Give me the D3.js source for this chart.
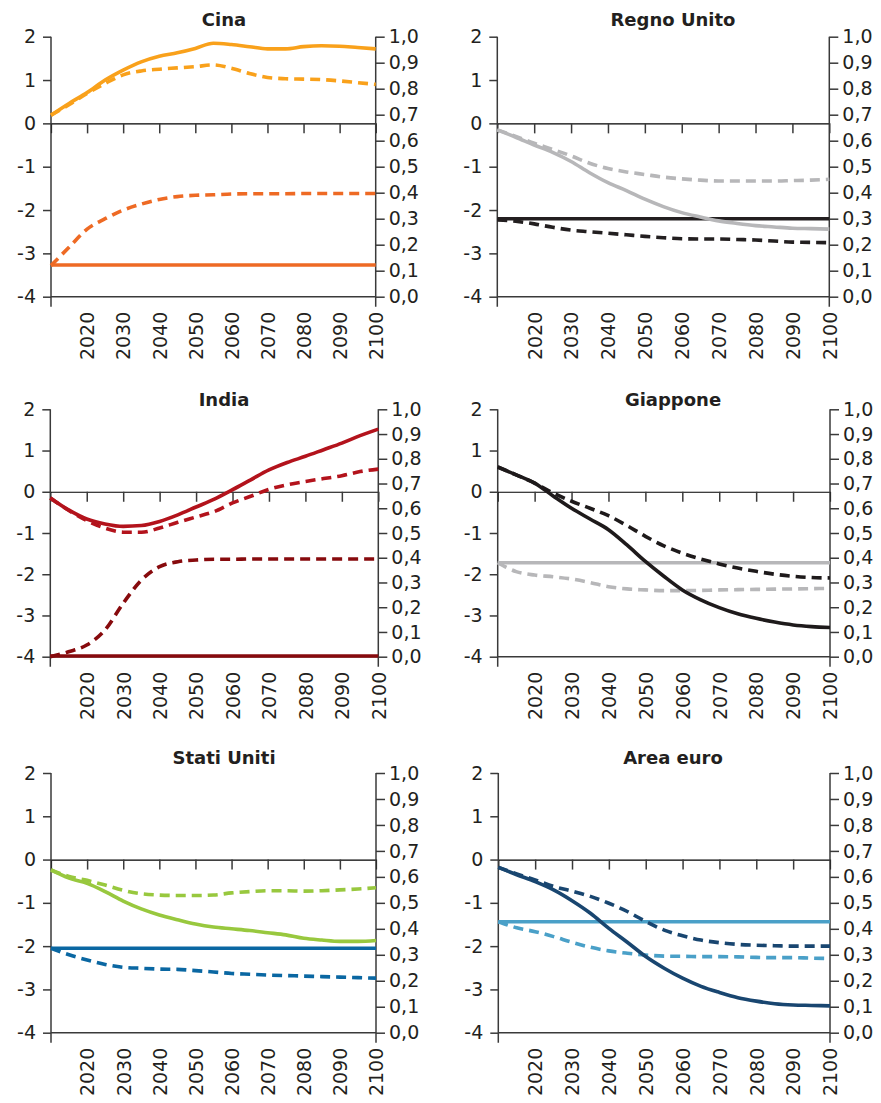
<!DOCTYPE html>
<html>
<head>
<meta charset="utf-8">
<script src="https://cdn.jsdelivr.net/npm/d3@7"></script>
<style>
  html, body { margin: 0; padding: 0; background: #fff; }
  svg { display: block; }
</style>
</head>
<body>
<svg id="chart" width="881" height="1103"></svg>
<script>
// ---------------- DATA ----------------
const years = [2010, 2015, 2020, 2025, 2030, 2035, 2040, 2045, 2050, 2055, 2060, 2065, 2070, 2075, 2080, 2085, 2090, 2095, 2100];
const xTickYears = [2020, 2030, 2040, 2050, 2060, 2070, 2080, 2090, 2100];
const leftTicks = [2, 1, 0, -1, -2, -3, -4];
const rightTicks = [1.0, 0.9, 0.8, 0.7, 0.6, 0.5, 0.4, 0.3, 0.2, 0.1, 0.0];
const countries = ["Cina", "Regno Unito", "India", "Giappone", "Stati Uniti", "Area euro"];

// upper series (left axis): solid and dashed; lower series (right axis): flat solid and dashed
const cinaSolidL  = [0.19, 0.46, 0.71, 1.00, 1.23, 1.42, 1.55, 1.63, 1.73, 1.85, 1.82, 1.77, 1.72, 1.72, 1.77, 1.79, 1.78, 1.75, 1.72];
const cinaDashL   = [0.19, 0.43, 0.69, 0.92, 1.12, 1.21, 1.25, 1.28, 1.31, 1.35, 1.27, 1.15, 1.06, 1.03, 1.02, 1.01, 0.98, 0.94, 0.90];
const cinaSolidR  = [0.122, 0.122, 0.122, 0.122, 0.122, 0.122, 0.122, 0.122, 0.122, 0.122, 0.122, 0.122, 0.122, 0.122, 0.122, 0.122, 0.122, 0.122, 0.122];
const cinaDashR   = [0.12, 0.19, 0.26, 0.30, 0.333, 0.356, 0.374, 0.385, 0.39, 0.392, 0.395, 0.396, 0.396, 0.396, 0.397, 0.397, 0.397, 0.397, 0.397];

const ukSolidL    = [-0.15, -0.32, -0.50, -0.67, -0.88, -1.14, -1.37, -1.55, -1.75, -1.92, -2.06, -2.16, -2.25, -2.31, -2.36, -2.39, -2.42, -2.43, -2.44];
const ukDashL     = [-0.15, -0.30, -0.46, -0.60, -0.75, -0.92, -1.04, -1.12, -1.18, -1.24, -1.28, -1.31, -1.33, -1.33, -1.33, -1.33, -1.32, -1.31, -1.29];
const ukSolidR    = [0.30, 0.30, 0.30, 0.30, 0.30, 0.30, 0.30, 0.30, 0.30, 0.30, 0.30, 0.30, 0.30, 0.30, 0.30, 0.30, 0.30, 0.30, 0.30];
const ukDashR     = [0.295, 0.29, 0.28, 0.267, 0.256, 0.25, 0.244, 0.238, 0.232, 0.227, 0.223, 0.222, 0.222, 0.22, 0.218, 0.214, 0.21, 0.209, 0.208];

const indiaSolidL = [-0.15, -0.44, -0.66, -0.78, -0.84, -0.82, -0.72, -0.56, -0.37, -0.18, 0.05, 0.29, 0.53, 0.71, 0.86, 1.02, 1.18, 1.36, 1.52];
const indiaDashL  = [-0.15, -0.45, -0.70, -0.88, -0.98, -0.98, -0.88, -0.74, -0.61, -0.48, -0.27, -0.11, 0.06, 0.17, 0.25, 0.32, 0.39, 0.49, 0.55];
const indiaSolidR = [0.003, 0.003, 0.003, 0.003, 0.003, 0.003, 0.003, 0.003, 0.003, 0.003, 0.003, 0.003, 0.003, 0.003, 0.003, 0.003, 0.003, 0.003, 0.003];
const indiaDashR  = [0.0, 0.02, 0.047, 0.108, 0.216, 0.31, 0.364, 0.384, 0.391, 0.394, 0.394, 0.395, 0.395, 0.395, 0.395, 0.395, 0.395, 0.395, 0.395];

const japanSolidL = [0.60, 0.41, 0.21, -0.10, -0.40, -0.66, -0.92, -1.29, -1.69, -2.05, -2.38, -2.62, -2.81, -2.96, -3.07, -3.16, -3.23, -3.27, -3.29];
const japanDashL  = [0.60, 0.41, 0.21, -0.03, -0.23, -0.40, -0.58, -0.82, -1.08, -1.31, -1.49, -1.63, -1.75, -1.85, -1.93, -2.00, -2.05, -2.08, -2.09];
const japanSolidR = [0.38, 0.38, 0.38, 0.38, 0.38, 0.38, 0.38, 0.38, 0.38, 0.38, 0.38, 0.38, 0.38, 0.38, 0.38, 0.38, 0.38, 0.38, 0.38];
const japanDashR  = [0.38, 0.344, 0.33, 0.323, 0.314, 0.30, 0.283, 0.274, 0.27, 0.267, 0.267, 0.268, 0.27, 0.271, 0.272, 0.273, 0.274, 0.275, 0.276];

const usSolidL    = [-0.24, -0.43, -0.55, -0.74, -0.96, -1.14, -1.28, -1.39, -1.49, -1.56, -1.60, -1.64, -1.69, -1.74, -1.82, -1.86, -1.89, -1.89, -1.87];
const usDashL     = [-0.24, -0.39, -0.48, -0.59, -0.71, -0.79, -0.82, -0.83, -0.83, -0.82, -0.77, -0.74, -0.72, -0.72, -0.73, -0.72, -0.70, -0.68, -0.65];
const usSolidR    = [0.325, 0.325, 0.325, 0.325, 0.325, 0.325, 0.325, 0.325, 0.325, 0.325, 0.325, 0.325, 0.325, 0.325, 0.325, 0.325, 0.325, 0.325, 0.325];
const usDashR     = [0.325, 0.30, 0.28, 0.263, 0.252, 0.248, 0.245, 0.244, 0.239, 0.234, 0.228, 0.225, 0.222, 0.22, 0.218, 0.216, 0.214, 0.212, 0.21];

const euroSolidL  = [-0.18, -0.35, -0.51, -0.70, -0.95, -1.24, -1.59, -1.91, -2.24, -2.51, -2.74, -2.93, -3.07, -3.19, -3.27, -3.33, -3.36, -3.37, -3.38];
const euroDashL   = [-0.18, -0.33, -0.47, -0.62, -0.73, -0.85, -1.01, -1.20, -1.43, -1.63, -1.76, -1.86, -1.92, -1.96, -1.98, -1.99, -2.00, -2.00, -2.00];
const euroSolidR  = [0.427, 0.427, 0.427, 0.427, 0.427, 0.427, 0.427, 0.427, 0.427, 0.427, 0.427, 0.427, 0.427, 0.427, 0.427, 0.427, 0.427, 0.427, 0.427];
const euroDashR   = [0.427, 0.404, 0.389, 0.37, 0.348, 0.329, 0.315, 0.306, 0.299, 0.295, 0.294, 0.293, 0.293, 0.292, 0.29, 0.289, 0.289, 0.287, 0.286];

// ---------------- STYLE / LAYOUT ----------------
const panels = [
  { name: countries[0], left: 51,    right: 375.7, top: 36.7,  bottom: 296.7, titleX: 224, titleY: 26,
    upper: "#F9A11B", lower: "#EE6A24", sL: cinaSolidL, dL: cinaDashL, sR: cinaSolidR, dR: cinaDashR },
  { name: countries[1], left: 497.3, right: 829.3, top: 36.7,  bottom: 296.7, titleX: 673, titleY: 26,
    upper: "#B7B7B9", lower: "#231F20", sL: ukSolidL, dL: ukDashL, sR: ukSolidR, dR: ukDashR },
  { name: countries[2], left: 50.3,  right: 378.3, top: 409.3, bottom: 656.7, titleX: 224, titleY: 406,
    upper: "#B3131C", lower: "#870A0D", sL: indiaSolidL, dL: indiaDashL, sR: indiaSolidR, dR: indiaDashR },
  { name: countries[3], left: 497.7, right: 830,   top: 409.3, bottom: 656.7, titleX: 673, titleY: 406,
    upper: "#1E1A1B", lower: "#B7B7B9", sL: japanSolidL, dL: japanDashL, sR: japanSolidR, dR: japanDashR },
  { name: countries[4], left: 51,    right: 376,   top: 773,   bottom: 1032.7, titleX: 224, titleY: 764,
    upper: "#98C83E", lower: "#0A67A2", sL: usSolidL, dL: usDashL, sR: usSolidR, dR: usDashR },
  { name: countries[5], left: 498.3, right: 830,   top: 773,   bottom: 1032.7, titleX: 673, titleY: 764,
    upper: "#194670", lower: "#4AA0C8", sL: euroSolidL, dL: euroDashL, sR: euroSolidR, dR: euroDashR }
];

const axisColor = "#3a3a3a";
const textColor = "#231F20";
const fontFamily = "'DejaVu Sans', sans-serif";
const fontSize = 19;
const lineW = 3.6;
const dash = "10,6";

const svg = d3.select("#chart");

panels.forEach(p => {
  const g = svg.append("g");
  const x = d3.scaleLinear().domain([2010, 2100]).range([p.left, p.right]);
  const yL = d3.scaleLinear().domain([-4, 2]).range([p.bottom, p.top]);
  const yR = d3.scaleLinear().domain([0, 1]).range([p.bottom, p.top]);

  // title
  g.append("text")
    .attr("x", p.titleX).attr("y", p.titleY)
    .attr("text-anchor", "middle")
    .attr("font-family", fontFamily).attr("font-weight", "bold").attr("font-size", 18)
    .attr("fill", textColor)
    .text(p.name);

  // bottom frame line at -4
  g.append("line")
    .attr("x1", p.left).attr("x2", p.right)
    .attr("y1", yL(-4)).attr("y2", yL(-4))
    .attr("stroke", axisColor).attr("stroke-width", 1.5);

  // zero line with ticks hanging down
  const xAxisZero = d3.axisBottom(x).tickValues(xTickYears.filter(d => d < 2100))
    .tickSize(10).tickFormat("");
  const gz = g.append("g").attr("transform", `translate(0,${yL(0)})`).call(xAxisZero);
  gz.select(".domain").attr("stroke", "#000").attr("stroke-width", 1.2);
  gz.selectAll(".tick line").attr("stroke", axisColor).attr("stroke-width", 1.5);

  // year labels at bottom
  const xAxisLab = d3.axisBottom(x).tickValues(xTickYears).tickSize(0).tickFormat(d3.format("d"));
  const gl = g.append("g").attr("transform", `translate(0,${p.bottom})`).call(xAxisLab);
  gl.select(".domain").remove();
  gl.selectAll("text")
    .attr("font-family", fontFamily).attr("font-size", fontSize).attr("fill", textColor)
    .attr("transform", "rotate(-90)")
    .attr("text-anchor", "end")
    .attr("x", -15).attr("y", 0).attr("dy", "0.36em");

  // left axis
  const leftAxis = d3.axisLeft(yL).tickValues(leftTicks).tickSize(8).tickPadding(7)
    .tickFormat(d => d < 0 ? "-" + Math.abs(d) : String(d));
  const ga = g.append("g").attr("transform", `translate(${p.left},0)`).call(leftAxis);
  ga.select(".domain").remove();
  ga.selectAll(".tick line").attr("stroke", axisColor).attr("stroke-width", 1.5);
  ga.selectAll("text").attr("font-family", fontFamily).attr("font-size", fontSize).attr("fill", textColor);
  g.append("line").attr("x1", p.left).attr("x2", p.left).attr("y1", p.top).attr("y2", p.bottom + 10)
    .attr("stroke", axisColor).attr("stroke-width", 1.5);

  // right axis
  const rightAxis = d3.axisRight(yR).tickValues(rightTicks).tickSize(9).tickPadding(4)
    .tickFormat(d => d.toFixed(1).replace(".", ","));
  const gr = g.append("g").attr("transform", `translate(${p.right},0)`).call(rightAxis);
  gr.select(".domain").remove();
  gr.selectAll(".tick line").attr("stroke", axisColor).attr("stroke-width", 1.5);
  gr.selectAll("text").attr("font-family", fontFamily).attr("font-size", fontSize).attr("fill", textColor);
  g.append("line").attr("x1", p.right).attr("x2", p.right).attr("y1", p.top).attr("y2", p.bottom + 10)
    .attr("stroke", axisColor).attr("stroke-width", 1.5);

  // lines
  const lineL = d3.line().x((d, i) => x(years[i])).y(d => yL(d)).curve(d3.curveMonotoneX);
  const lineR = d3.line().x((d, i) => x(years[i])).y(d => yR(d)).curve(d3.curveMonotoneX);

  const series = [
    { data: p.dR, fn: lineR, color: p.lower, dashed: true },
    { data: p.sR, fn: lineR, color: p.lower, dashed: false },
    { data: p.dL, fn: lineL, color: p.upper, dashed: true },
    { data: p.sL, fn: lineL, color: p.upper, dashed: false }
  ];
  series.forEach(s => {
    g.append("path")
      .attr("d", s.fn(s.data))
      .attr("fill", "none")
      .attr("stroke", s.color)
      .attr("stroke-width", lineW)
      .attr("stroke-dasharray", s.dashed ? dash : null)
      .attr("stroke-linejoin", "round");
  });
});
</script>
</body>
</html>
